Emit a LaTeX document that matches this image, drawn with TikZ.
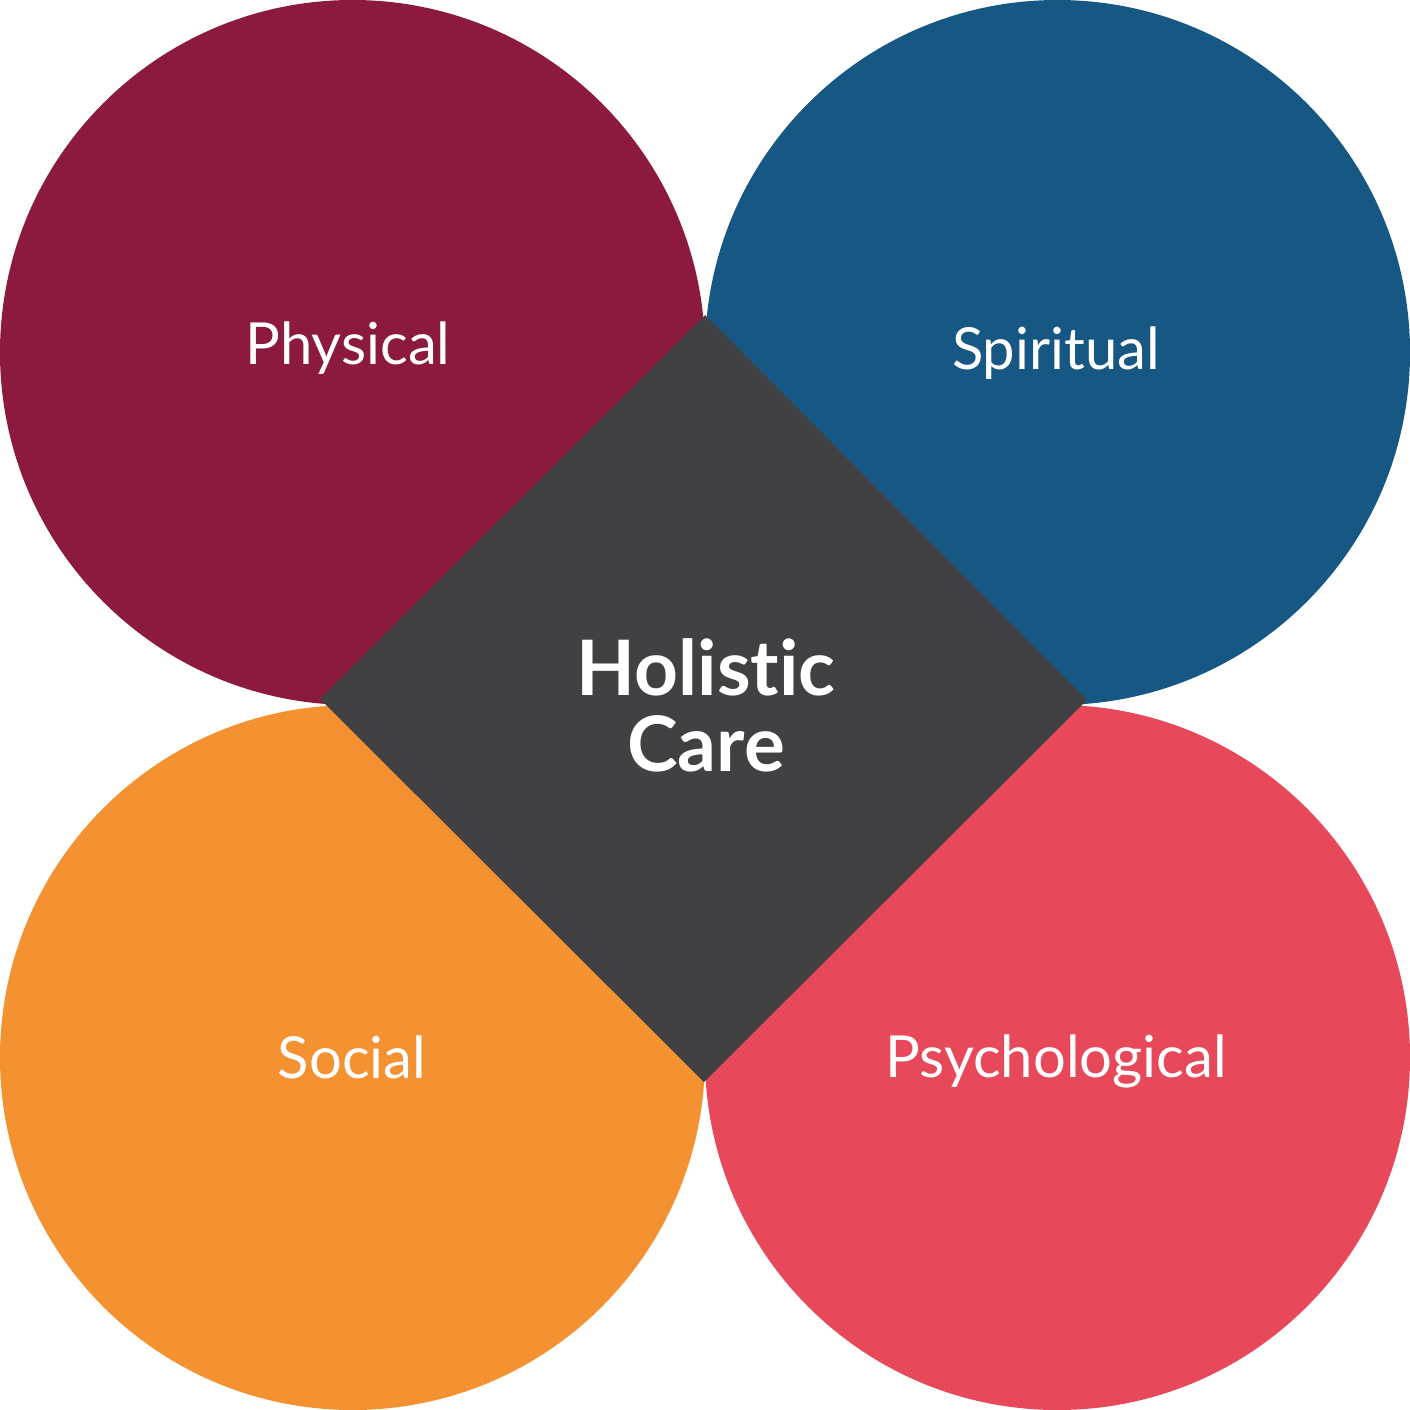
\documentclass[tikz,border=0pt]{standalone}
\usepackage{fontspec}
\setmainfont{Lato}[RawFeature=-liga]
\definecolor{physc}{HTML}{8B1A3D}
\definecolor{spirc}{HTML}{175783}
\definecolor{socc}{HTML}{F49130}
\definecolor{psyc}{HTML}{E8495A}
\definecolor{holc}{HTML}{414143}
\tikzset{
  petal/.style={circle, minimum size=705pt, inner sep=0pt, outer sep=0pt},
  lbl/.style={text=white, anchor=base, inner sep=0pt, font=\fontsize{58}{58}\selectfont},
  centerlbl/.style={text=white, align=center, inner sep=0pt, font=\bfseries\fontsize{76.5}{76}\selectfont}
}
\begin{document}
\begin{tikzpicture}[x=1pt,y=-1pt]
\useasboundingbox (0,0) rectangle (1410,1410);
\node[petal, fill=physc] (phys) at (352.5,352.5) {};
\node[petal, fill=spirc] (spir) at (1057.5,352.5) {};
\node[petal, fill=socc] (soc) at (352.5,1057.5) {};
\node[petal, fill=psyc] (psy) at (1057.5,1057.5) {};
\coordinate (dtop) at (705,315);
\coordinate (dright) at (1087,700);
\coordinate (dbottom) at (704,1082);
\coordinate (dleft) at (320,699);
\fill[holc] (dtop) -- (dright) -- (dbottom) -- (dleft) -- cycle;
\node[lbl] (tphys) at (348,364) {Physical};
\node[lbl] (tspir) at (1056,369) {Spiritual};
\node[lbl] (tsoc) at (352,1078) {Social};
\node[lbl] (tpsy) at (1056,1077) {Psychological};
\node[centerlbl, anchor=base] (thol) at (706,771) {Holistic\\Care};
\end{tikzpicture}
\end{document}
